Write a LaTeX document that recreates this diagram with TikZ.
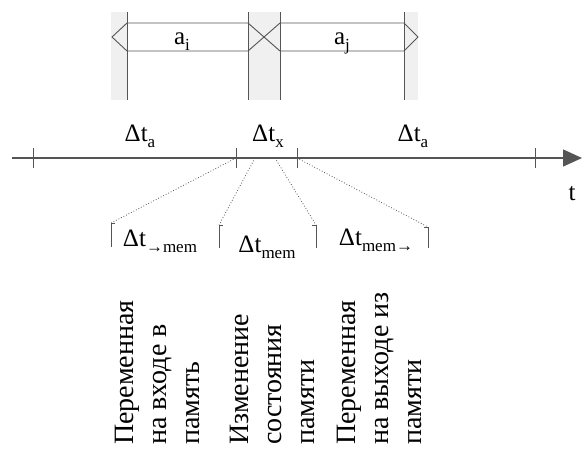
\documentclass[tikz,border=0pt]{standalone}
\usepackage{fontspec}
\setmainfont{Liberation Serif}
\usetikzlibrary{positioning, arrows.meta}
\definecolor{lnGray}{RGB}{85,85,85}
\definecolor{bandGray}{RGB}{240,240,240}
\newcommand{\lowidx}[1]{\raisebox{-6.5pt}{\fontsize{17}{17}\selectfont #1}}

\begin{document}
\begin{tikzpicture}[x=1pt, y=-1pt,
          lbl/.style={inner sep=0pt, anchor=base, font=\fontsize{25}{30}\selectfont},
          vtxt/.style={rotate=90, anchor=north west, align=left, inner sep=0pt,
                       font=\fontsize{28}{33}\selectfont},
          ln/.style={draw=lnGray, line width=0.9pt},
          dots/.style={draw=lnGray, dotted, line width=0.8pt}]
        \useasboundingbox (0,0) rectangle (583,450);
        % intervals a_i, a_j
        \fill[bandGray] (111,12) rectangle (127,100);
        \fill[bandGray] (248,12) rectangle (280,100);
        \fill[bandGray] (404,12) rectangle (418,100);
        \foreach \x in {127,248,280,404} \draw[ln] (\x,12) -- (\x,100);
        \draw[ln] (248,23) -- (127,23) -- (112,37) -- (127,51) -- (248,51)
                  -- (280,23) -- (404,23) -- (418,37) -- (404,51) -- (280,51) -- cycle;
        \node[lbl] (ai) at (182,44) {a\lowidx{i}};
        \node[lbl] (aj) at (342,44) {a\lowidx{j}};
        % time axis
        \coordinate (t0) at (12,158);
        \coordinate (t1) at (582,158);
        \coordinate (k1) at (33,158);
        \coordinate (k2) at (236,158);
        \coordinate (k3) at (297,158);
        \coordinate (k4) at (535,158);
        \coordinate (p1) at (255,158);
        \coordinate (p2) at (275,158);
        \draw[ln, line width=1.4pt, -{Triangle[length=19pt,width=17pt]}] (t0) -- (t1);
        \foreach \k in {k1,k2,k3,k4} \draw[ln] (\k) ++(0,-10) -- ++(0,20);
        \node[lbl] (da1) at (140,141) {Δt\lowidx{a}};
        \node[lbl] (dx)  at (268,141) {Δt\lowidx{x}};
        \node[lbl] (da2) at (413,141) {Δt\lowidx{a}};
        \node[lbl] (tt)  at (572,200) {t};
        % memory phases
        \coordinate (b1) at (111,223);
        \coordinate (b2) at (219,225);
        \coordinate (b3) at (316,225);
        \coordinate (b4) at (428,227);
        \draw[dots] (k2) -- (b1);
        \draw[dots] (p1) -- (b2);
        \draw[dots] (p2) -- (b3);
        \draw[dots] (k3) -- (b4);
        \draw[ln] ([xshift=4pt]b1) -- (b1) -- ++(0,24);
        \draw[ln] ([xshift=4pt]b2) -- (b2) -- ++(0,23);
        \draw[ln] ([xshift=-4pt]b3) -- (b3) -- ++(0,23);
        \draw[ln] ([xshift=-4pt]b4) -- (b4) -- ++(0,21);
        \node[lbl] (din)  at (160,246) {Δt\lowidx{→mem}};
        \node[lbl] (dmem) at (267,252) {Δt\lowidx{mem}};
        \node[lbl] (dout) at (376,245) {Δt\lowidx{mem→}};
        % descriptions
        \node[vtxt] (vin)  at (115,445) {Переменная\\на входе в\\память};
        \node[vtxt] (vmem) at (230,445) {Изменение\\состояния\\памяти};
        \node[vtxt] (vout) at (337,445) {Переменная\\на выходе из\\памяти};
      \end{tikzpicture}
\end{document}
